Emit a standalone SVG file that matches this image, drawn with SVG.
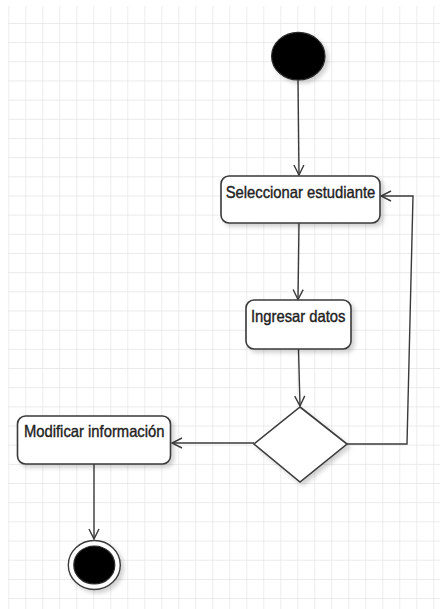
<svg xmlns="http://www.w3.org/2000/svg" width="440" height="609" viewBox="0 0 440 609">
  <style>
    .node { fill: #ffffff; stroke: #3a3a3a; stroke-width: 1.6; }
    .dot { fill: #000000; stroke: #2a2a2a; stroke-width: 1.2; }
    .edge { fill: none; stroke: #3a3a3a; stroke-width: 1.4; }
    .label { font-family: "Liberation Sans", Arial, sans-serif; font-size: 14.8px; fill: #222222; stroke: #222222; stroke-width: 0.35; text-anchor: middle; }
  </style>
  <defs>
    <pattern id="grid" patternUnits="userSpaceOnUse" x="8.3" y="3.8" width="17" height="19.17">
      <path d="M0,0 V19.17 M0,0 H17" fill="none" stroke="#e3e3e3" stroke-width="1.3"/>
    </pattern>
    <marker id="open" viewBox="0 0 12 12" refX="11" refY="6" markerWidth="12" markerHeight="12" markerUnits="userSpaceOnUse" orient="auto">
      <path d="M1,1 L11,6 L1,11" fill="none" stroke="#3a3a3a" stroke-width="1.4"/>
    </marker>
    <filter id="shadow" x="-20%" y="-20%" width="150%" height="150%">
      <feDropShadow dx="3" dy="3" stdDeviation="2" flood-color="#000000" flood-opacity="0.18"/>
    </filter>
  </defs>

  <rect x="0" y="0" width="440" height="609" fill="#ffffff"/>
  <rect x="8" y="6" width="432" height="603" fill="url(#grid)"/>

  <g id="connectors">
    <path class="edge" d="M298,80 L299,175" marker-end="url(#open)"/>
    <path class="edge" d="M299,223 L298,299.5" marker-end="url(#open)"/>
    <path class="edge" d="M298.5,349 L300,406" marker-end="url(#open)"/>
    <path class="edge" d="M347,444 L407,444 L413,196 L381,196" marker-end="url(#open)"/>
    <path class="edge" d="M254,443 L172,443" marker-end="url(#open)"/>
    <path class="edge" d="M94,464 L94,539" marker-end="url(#open)"/>
  </g>

  <g id="start" filter="url(#shadow)">
    <ellipse class="dot" cx="298.3" cy="56.2" rx="26.7" ry="23.8"/>
  </g>

  <g id="seleccionar">
    <rect class="node" x="221" y="176" width="159" height="47" rx="8" ry="8" filter="url(#shadow)"/>
    <text class="label" transform="translate(300.5,197.5) scale(1,1.13)">Seleccionar estudiante</text>
  </g>

  <g id="ingresar">
    <rect class="node" x="246" y="300" width="105" height="49" rx="8" ry="8" filter="url(#shadow)"/>
    <text class="label" transform="translate(298.2,321.5) scale(1,1.13)">Ingresar datos</text>
  </g>

  <g id="decision">
    <polygon class="node" points="300,407 347,444 300,482 254,444" filter="url(#shadow)"/>
  </g>

  <g id="modificar">
    <rect class="node" x="17.5" y="416" width="153" height="48" rx="8" ry="8" filter="url(#shadow)"/>
    <text class="label" transform="translate(94.2,437) scale(1,1.13)">Modificar información</text>
  </g>

  <g id="end" filter="url(#shadow)">
    <ellipse cx="94.3" cy="565" rx="26" ry="24.5" fill="#ffffff" stroke="#3a3a3a" stroke-width="1.4"/>
    <ellipse class="dot" cx="94.3" cy="565" rx="20.5" ry="19"/>
  </g>
</svg>
